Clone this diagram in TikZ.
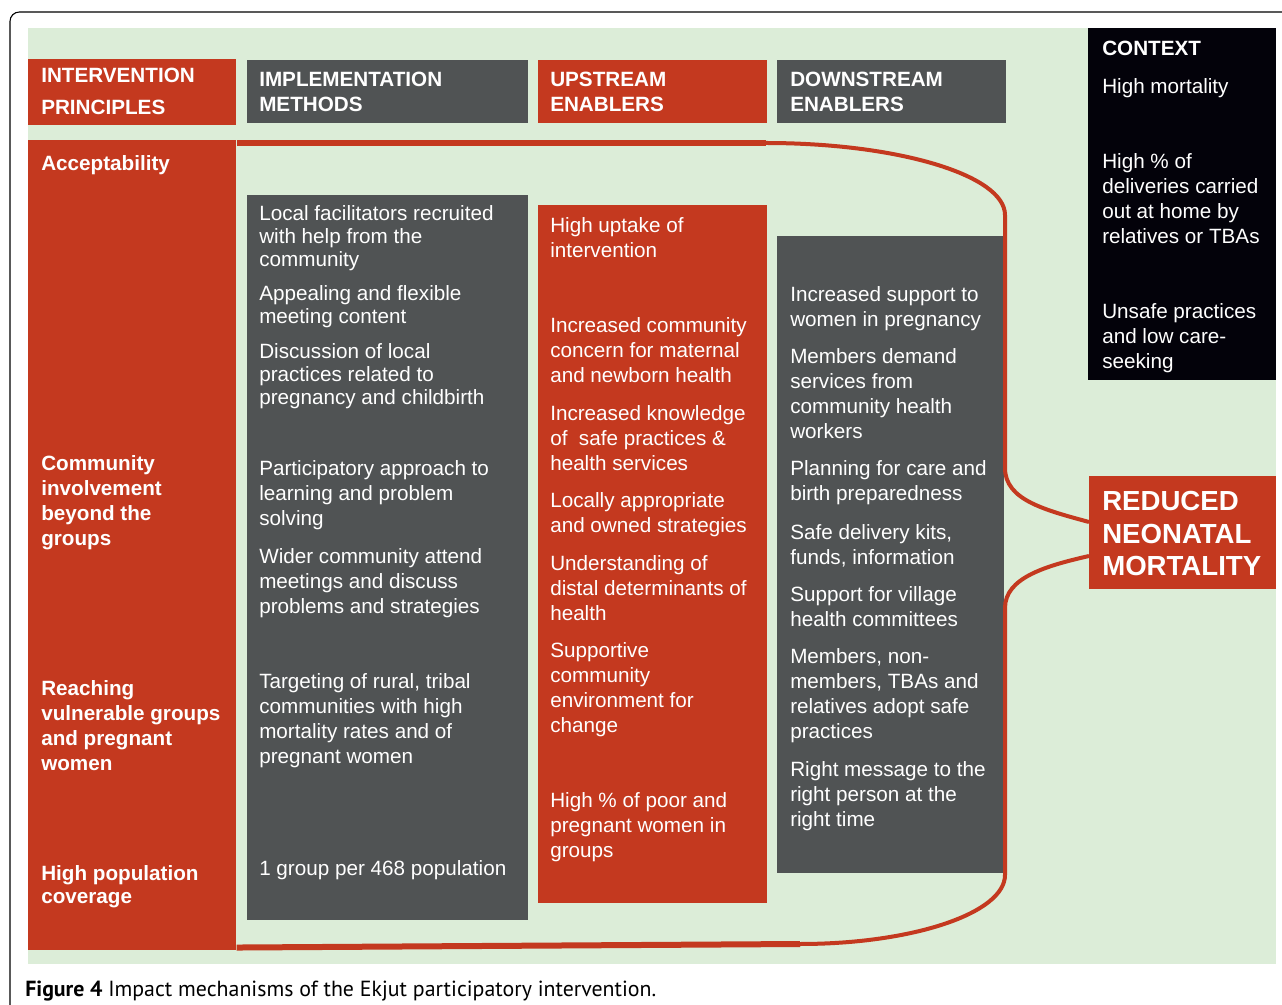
\documentclass[tikz,border=0pt]{standalone}
\usepackage{fontspec}
\setmainfont{Liberation Sans}
\newfontfamily\capfont{PT Sans}
\usepackage{tikz}
\usetikzlibrary{positioning}
\definecolor{ekred}{RGB}{196,57,31}
\definecolor{ekgrey}{RGB}{80,83,84}
\definecolor{ekgreen}{RGB}{220,237,216}
\definecolor{ekblack}{RGB}{3,2,10}
% lines stacked from the first baseline down
\newcommand\stk[1]{\vtop{\let\\\cr\halign{##\hfil\cr#1\crcr}}}
\tikzstyle{box} = [anchor=north west, inner sep=0pt]
\tikzstyle{txt} = [anchor=base west, inner sep=0pt, text=white, font=\fontsize{15.5}{18.75}\selectfont]
\tikzstyle{tight} = [txt, font=\fontsize{15.5}{16.9}\selectfont]
\tikzstyle{head} = [txt, font=\fontsize{15.5}{18.75}\selectfont\bfseries]
\tikzstyle{bracket} = [ekred, line width=3pt]

\begin{document}
\begin{tikzpicture}[x=0.75pt, y=-0.75pt]
	\useasboundingbox (0,0) rectangle (1282,1005);
	% Frame and background:
	\draw[line width=0.8pt, rounded corners=7pt] (1282,12) -- (10,12) -- (10,1005);
	\fill[ekgreen] (28,28) rectangle (1276,964);

	% Column heads:
	\node[box, fill=ekred, minimum width=156pt, minimum height=49.5pt] (hprinc) at (28,59) {};
	\node[box, fill=ekgrey, minimum width=210.75pt, minimum height=47.25pt] (himpl) at (247,60) {};
	\node[box, fill=ekred, minimum width=171.75pt, minimum height=47.25pt] (hup) at (538,60) {};
	\node[box, fill=ekgrey, minimum width=171.75pt, minimum height=47.25pt] (hdown) at (777,60) {};
	\node[head, font=\fontsize{15.5}{24}\selectfont\bfseries] (tprinc) at (41,83) {\stk{INTERVENTION\\PRINCIPLES}};
	\node[head] (timpl) at (259,87) {\stk{IMPLEMENTATION\\METHODS}};
	\node[head] (tup) at (550,87) {\stk{UPSTREAM\\ENABLERS}};
	\node[head] (tdown) at (790,87) {\stk{DOWNSTREAM\\ENABLERS}};

	% Column bodies:
	\node[box, fill=ekred, minimum width=156pt, minimum height=607.5pt] (princ) at (28,140) {};
	\node[box, fill=ekgrey, minimum width=210.75pt, minimum height=543.75pt] (impl) at (247,195) {};
	\node[box, fill=ekred, minimum width=171.75pt, minimum height=523.5pt] (up) at (538,205) {};
	\node[box, fill=ekgrey, minimum width=170.25pt, minimum height=477.75pt] (down) at (777,236) {};
	\node[box, fill=ekblack, minimum width=141pt, minimum height=264pt] (context) at (1088,28) {};
	\node[box, fill=ekred, minimum width=140.25pt, minimum height=84.75pt] (outcome) at (1089,476) {};

	% Bracket round the mechanisms:
	\draw[ekred, line width=4.5pt] ([yshift=-2.25pt]princ.north east) -- (766,143) coordinate (bt);
	\draw[ekred, line width=4.5pt] ([yshift=2.25pt]princ.south east) -- (800,944) coordinate (bb);
	\draw[bracket] (bt) .. controls (897,143) and (1005,175) .. (1005,215)
		-- (1005,468) .. controls (1005,500) and (1045,510) .. ([yshift=-34.5pt]outcome.north west);
	\draw[bracket] ([yshift=-60pt]outcome.north west) .. controls (1045,566) and (1005,578) .. (1005,608)
		-- (1005,875) .. controls (1005,913) and (913,944) .. (bb);

	% Intervention principles:
	\node[head] (acc) at (41,171) {Acceptability};
	\node[head] (comm) at (41,470) {\stk{Community\\involvement\\beyond the\\groups}};
	\node[head] (reach) at (41,695) {\stk{Reaching\\vulnerable groups\\and pregnant\\women}};
	\node[head, font=\fontsize{15.5}{17.25}\selectfont\bfseries] (cover) at (41,880) {\stk{High population\\coverage}};

	% Implementation methods:
	\node[tight] (m1) at (259,221) {\stk{Local facilitators recruited\\with help from the\\community}};
	\node[tight] (m2) at (259,301) {\stk{Appealing and flexible\\meeting content}};
	\node[tight] (m3) at (259,359) {\stk{Discussion of local\\practices related to\\pregnancy and childbirth}};
	\node[txt] (m4) at (259,476) {\stk{Participatory approach to\\learning and problem\\solving}};
	\node[txt] (m5) at (259,563) {\stk{Wider community attend\\meetings and discuss\\problems and strategies}};
	\node[txt] (m6) at (259,688) {\stk{Targeting of rural, tribal\\communities with high\\mortality rates and of\\pregnant women}};
	\node[txt] (m7) at (259,875) {1 group per 468 population};

	% Upstream enablers:
	\node[txt] (u1) at (550,233) {\stk{High uptake of\\intervention}};
	\node[txt] (u2) at (550,333) {\stk{Increased community\\concern for maternal\\and newborn health}};
	\node[txt] (u3) at (550,421) {\stk{Increased knowledge\\of \ safe practices \&\\health services}};
	\node[txt] (u4) at (550,508) {\stk{Locally appropriate\\and owned strategies}};
	\node[txt] (u5) at (550,570) {\stk{Understanding of\\distal determinants of\\health}};
	\node[txt] (u6) at (550,657) {\stk{Supportive\\community\\environment for\\change}};
	\node[txt] (u7) at (550,807) {\stk{High \% of poor and\\pregnant women in\\groups}};

	% Downstream enablers:
	\node[txt] (d1) at (790,302) {\stk{Increased support to\\women in pregnancy}};
	\node[txt] (d2) at (790,364) {\stk{Members demand\\services from\\community health\\workers}};
	\node[txt] (d3) at (790,476) {\stk{Planning for care and\\birth preparedness}};
	\node[txt] (d4) at (790,539) {\stk{Safe delivery kits,\\funds, information}};
	\node[txt] (d5) at (790,601) {\stk{Support for village\\health committees}};
	\node[txt] (d6) at (790,663) {\stk{Members, non-\\members, TBAs and\\relatives adopt safe\\practices}};
	\node[txt] (d7) at (790,776) {\stk{Right message to the\\right person at the\\right time}};

	% Context and outcome:
	\node[head] (ctitle) at (1102,56) {CONTEXT};
	\node[txt] (c1) at (1102,94) {High mortality};
	\node[txt] (c2) at (1102,169) {\stk{High \% of\\deliveries carried\\out at home by\\relatives or TBAs}};
	\node[txt] (c3) at (1102,319) {\stk{Unsafe practices\\and low care-\\seeking}};
	\node[head, font=\fontsize{20.7}{24.75}\selectfont\bfseries] (otxt) at (1102,510) {\stk{REDUCED\\NEONATAL\\MORTALITY}};

	% Caption:
	\node[anchor=base west, inner sep=0pt, font=\capfont\fontsize{16.4}{19}\selectfont] (caption) at (25,996)
		{\textbf{Figure 4} Impact mechanisms of the Ekjut participatory intervention.};
\end{tikzpicture}
\end{document}
